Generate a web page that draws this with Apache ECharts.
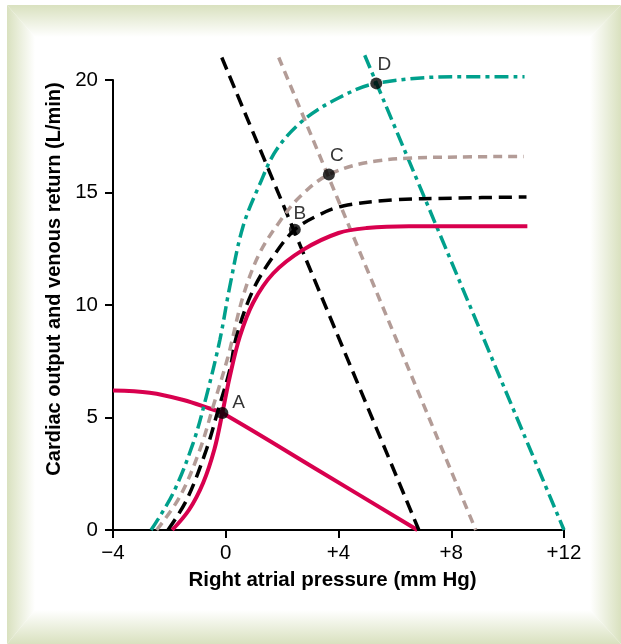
<!DOCTYPE html>
<html>
<head>
<meta charset="utf-8">
<script src="https://cdn.jsdelivr.net/npm/echarts@6/dist/echarts.min.js"></script>
<style>
  html, body { margin: 0; padding: 0; background: #fff; }
  #chart { width: 621px; height: 644px; }
</style>
</head>
<body>
<div id="chart"></div>
<script>
// tick labels
var xTicks = { '-4': '\u22124', '0': '0', '4': '+4', '8': '+8', '12': '+12' }

// cardiac output curves [right atrial pressure, L/min]
var coNormal = [[-1.9, 0], [-1.3, 0.9], [-0.8, 2.1], [-0.4, 3.6], [-0.12, 5.2], [0.14, 6.8], [0.5, 8.6], [0.97, 10.1], [1.68, 11.4], [2.74, 12.45], [4.0, 13.2], [5.0, 13.42], [6.5, 13.5], [10.7, 13.5]]
var coBlack = [[-2.05, 0], [-1.39, 1.33], [-0.69, 3.56], [-0.27, 5.33], [0.14, 7.1], [0.38, 8.6], [0.97, 10.67], [1.68, 12.15], [2.45, 13.35], [3.3, 14.0], [4.16, 14.4], [5.93, 14.67], [8.06, 14.75], [10.67, 14.8]]
var coBrown = [[-2.45, 0], [-1.63, 1.48], [-0.92, 3.56], [-0.45, 5.48], [0.08, 7.7], [0.61, 10.37], [1.2, 12.3], [1.91, 13.7], [2.62, 14.8], [3.66, 15.8], [5.34, 16.4], [8.3, 16.58], [10.57, 16.6]]
var coTeal = [[-2.65, 0], [-1.87, 1.63], [-1.16, 3.85], [-0.69, 5.93], [-0.21, 8.44], [0.14, 10.8], [0.61, 13.48], [1.2, 15.35], [1.8, 16.9], [2.74, 18.2], [4.0, 19.2], [5.34, 19.85], [8.3, 20.15], [10.6, 20.15]]

// venous return curves
var vrNormal = [[-4, 6.2], [-2.7, 6.1], [-1.5, 5.78], [-0.57, 5.4], [-0.12, 5.2], [3.35, 2.6], [6.8, 0]]
var vrBlack = [[-0.14, 21], [6.85, 0]]
var vrBrown = [[1.88, 21], [8.87, 0]]
var vrTeal = [[4.93, 21.1], [12, 0]]

// equilibrium points
var pointNames = ['A', 'B', 'C', 'D']
var pointValues = [[-0.12, 5.2], [2.45, 13.35], [3.66, 15.8], [5.34, 19.85]]

var RED = '#d8004e'
var BROWN = '#b39c97'
var TEAL = '#00a08c'
var FRAME = '#d9e1bf'
var FONT = 'Liberation Sans, Arial, sans-serif'

var chart = echarts.init(document.getElementById('chart'))

function line(data, color, width, dash) {
  return {
    type: 'line',
    data: data,
    smooth: 0.35,
    clip: false,
    symbol: 'none',
    silent: true,
    lineStyle: { color: color, width: width, type: dash || 'solid', cap: 'butt' }
  }
}

function grad(x0, y0, x1, y1) {
  return new echarts.graphic.LinearGradient(x0, y0, x1, y1, [
    { offset: 0, color: FRAME },
    { offset: 1, color: '#ffffff' }
  ])
}

// framed panel with soft edges
function frame(points, fill) {
  return { type: 'polygon', z: -10, silent: true, shape: { points: points }, style: { fill: fill } }
}

// label placement for each point
var labelStyles = [
  { position: 'right', distance: 4, offset: [0, -10] },
  { position: 'top', distance: 0, offset: [5, 0] },
  { position: 'top', distance: 3, offset: [8, 0] },
  { position: 'top', distance: 3, offset: [8, 0] }
]

chart.setOption({
  backgroundColor: '#fff',
  animation: false,
  graphic: [
    frame([[7, 5], [621, 5], [590, 37], [35, 37]], grad(0, 0, 0, 1)),
    frame([[7, 5], [35, 37], [35, 610], [7, 644]], grad(0, 0, 1, 0)),
    frame([[621, 5], [621, 644], [590, 610], [590, 37]], grad(1, 0, 0, 0)),
    frame([[7, 644], [35, 610], [590, 610], [621, 644]], grad(0, 1, 0, 0))
  ],
  grid: { left: 113, right: 57, top: 80, bottom: 114 },
  xAxis: {
    type: 'value',
    min: -4,
    max: 12,
    interval: 4,
    name: 'Right atrial pressure (mm Hg)',
    nameLocation: 'middle',
    nameGap: 40,
    nameTextStyle: { fontFamily: FONT, fontSize: 20.5, fontWeight: 'bold', color: '#000', padding: [0, 12, 0, 0] },
    axisLine: { onZero: false, lineStyle: { color: '#000', width: 2 } },
    axisTick: { length: 8, lineStyle: { color: '#000', width: 2 } },
    axisLabel: {
      margin: 13,
      fontFamily: FONT, fontSize: 20.5, color: '#000',
      formatter: function (v) { return xTicks[String(v)] }
    },
    splitLine: { show: false }
  },
  yAxis: {
    type: 'value',
    min: 0,
    max: 20,
    interval: 5,
    name: 'Cardiac output and venous return (L/min)',
    nameLocation: 'middle',
    nameGap: 39,
    nameTextStyle: { fontFamily: FONT, fontSize: 20, fontWeight: 'bold', color: '#000', padding: [0, 0, 0, 52] },
    axisLine: { show: true, onZero: false, lineStyle: { color: '#000', width: 2 } },
    axisTick: { show: true, length: 8, lineStyle: { color: '#000', width: 2 } },
    axisLabel: { margin: 15, fontFamily: FONT, fontSize: 20.5, color: '#000' },
    splitLine: { show: false }
  },
  series: [
    line(vrNormal, RED, 4),
    line(vrBlack, '#000', 3.5, [13, 7]),
    line(vrBrown, BROWN, 3.5, [9, 6]),
    line(vrTeal, TEAL, 3.5, [14, 5, 4, 5]),
    line(coTeal, TEAL, 3.5, [14, 5, 4, 5]),
    line(coBrown, BROWN, 3.5, [9, 6]),
    line(coBlack, '#000', 3.5, [13, 7]),
    line(coNormal, RED, 4),
    {
      type: 'scatter',
      symbolSize: 12,
      clip: false,
      itemStyle: { color: '#000' },
      z: 5,
      data: pointValues.map(function (v, i) {
        return {
          name: pointNames[i],
          value: v,
          label: Object.assign({
            show: true,
            formatter: '{b}',
            fontFamily: FONT,
            fontSize: 19,
            color: '#000'
          }, labelStyles[i])
        }
      })
    }
  ]
})
</script>
</body>
</html>
